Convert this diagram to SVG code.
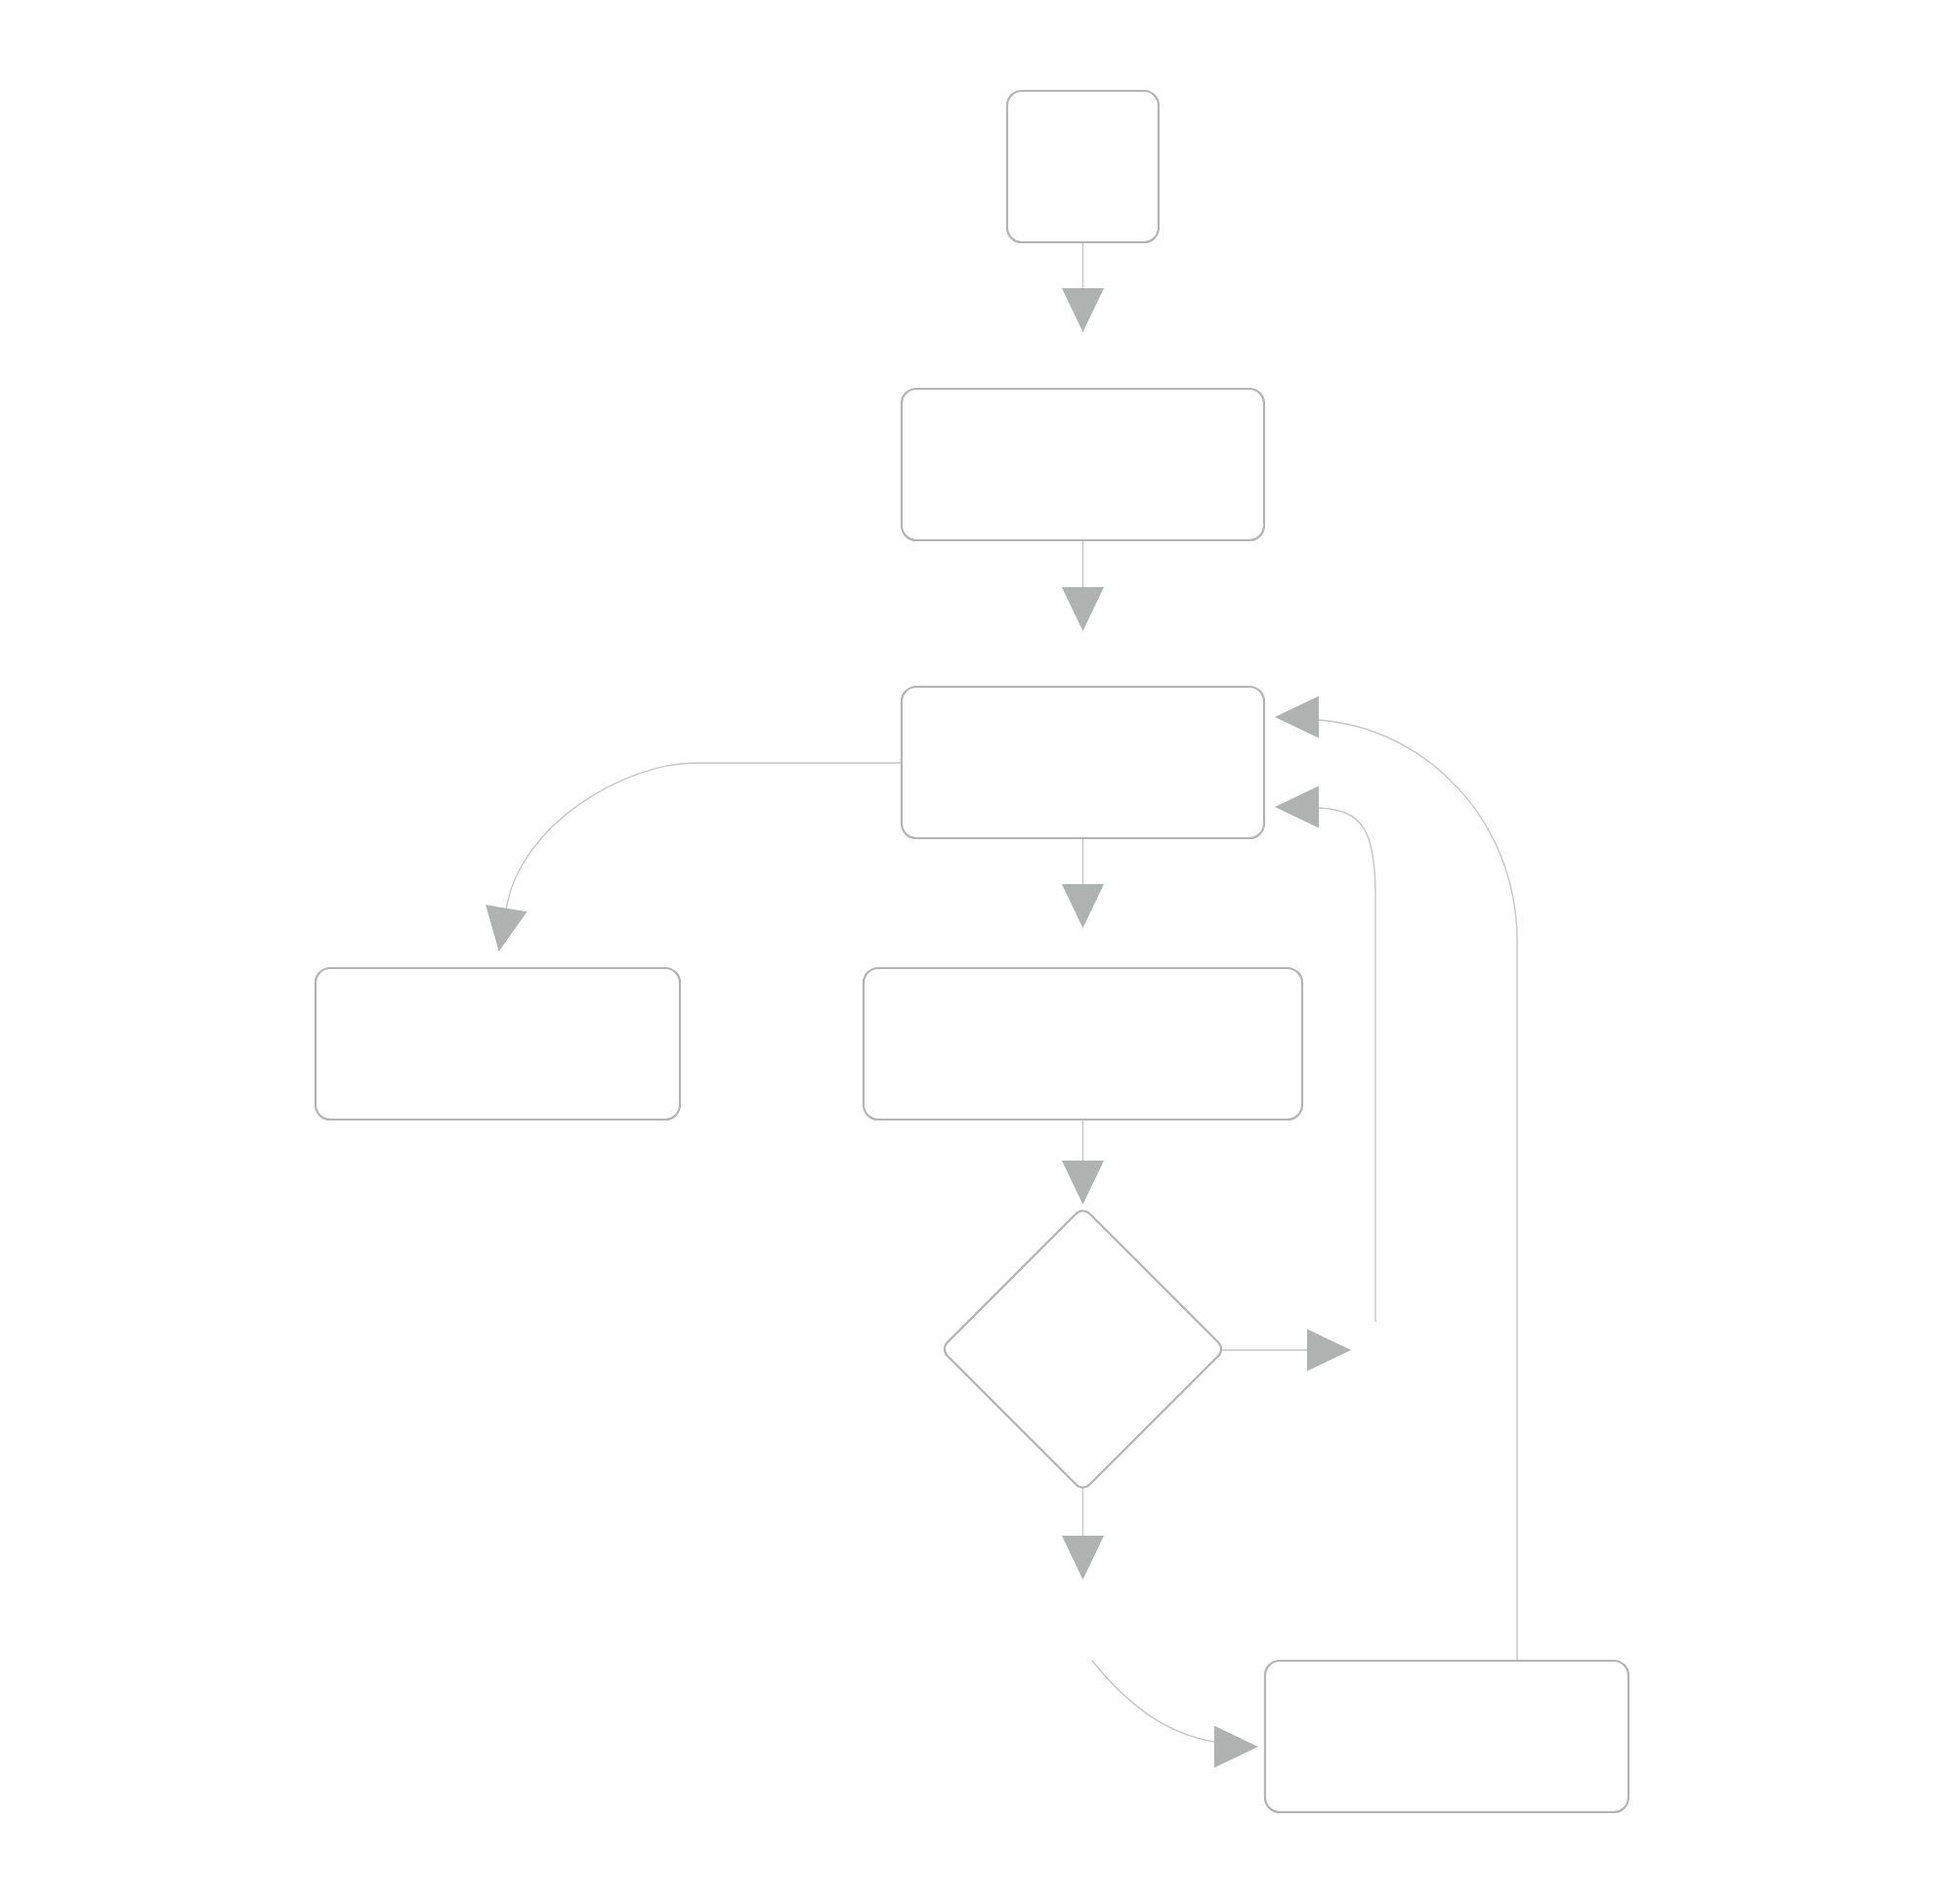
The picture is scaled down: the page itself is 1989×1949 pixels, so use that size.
<svg xmlns="http://www.w3.org/2000/svg" xmlns:xlink="http://www.w3.org/1999/xlink" width="1989" height="1949" viewBox="0 0 1989 1949">
<style>
.node{fill:#ffffff;stroke:#b4b4b4;stroke-width:2.2}
.edge{fill:none;stroke:#c6c6c6;stroke-width:1.4}
.ah{fill:#b0b2b1;stroke:none}
</style>
<defs>
<path id="ah" class="ah" d="M0,-21.5 L45,0 L0,21.5 Z"/>
</defs>
<rect width="1989" height="1949" fill="#ffffff"/>
<g id="connectors">
<path class="edge" d="M1108.5,248 V295"/>
<path class="edge" d="M1108.5,553 V601"/>
<path class="edge" d="M1108.5,858 V905"/>
<path class="edge" d="M1108.5,1146 V1188"/>
<path class="edge" d="M1108.5,1523 V1572"/>
<path class="edge" d="M1251,1382 H1338"/>
<path class="edge" d="M923,781 H712 C640,781 533,843 518.3,929.7"/>
<path class="edge" d="M1553,1700 V963 C1553,840 1460,745 1350,737"/>
<path class="edge" d="M1408,1353 V917 C1408,850 1395,829 1350,827"/>
<path class="edge" d="M1118,1700 C1160,1752 1200,1776 1243,1783"/>
<use xlink:href="#ah" transform="translate(1108.5,295) rotate(90)"/>
<use xlink:href="#ah" transform="translate(1108.5,601) rotate(90)"/>
<use xlink:href="#ah" transform="translate(1108.5,905) rotate(90)"/>
<use xlink:href="#ah" transform="translate(1108.5,1188) rotate(90)"/>
<use xlink:href="#ah" transform="translate(1108.5,1572) rotate(90)"/>
<use xlink:href="#ah" transform="translate(1338,1382)"/>
<use xlink:href="#ah" transform="translate(1243,1788)"/>
<use xlink:href="#ah" transform="translate(1350,734) rotate(180)"/>
<use xlink:href="#ah" transform="translate(1350,826) rotate(180)"/>
<use xlink:href="#ah" transform="translate(518.3,929.7) rotate(99.7)"/>
</g>
<g id="node1"><rect class="node" x="1031" y="93" width="155" height="155" rx="15"/></g>
<g id="node2"><rect class="node" x="923" y="398" width="371" height="155" rx="15"/></g>
<g id="node3"><rect class="node" x="923" y="703" width="371" height="155" rx="15"/></g>
<g id="node4"><rect class="node" x="884" y="991" width="449" height="155" rx="15"/></g>
<g id="node5"><rect class="node" x="323" y="991" width="373" height="155" rx="15"/></g>
<g id="decision"><rect class="node" x="1005.5" y="1278" width="206" height="206" rx="10" transform="rotate(45 1108.5 1381)"/></g>
<g id="node6"><rect class="node" x="1295" y="1700" width="372" height="155" rx="15"/></g>
</svg>
